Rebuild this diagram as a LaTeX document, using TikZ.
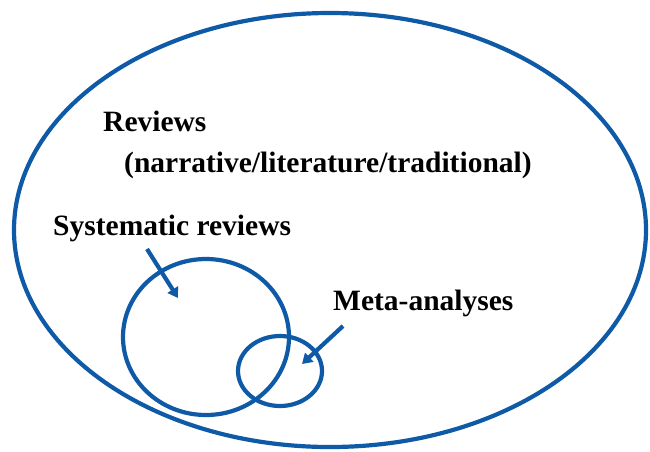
\documentclass[tikz,border=0pt]{standalone}
\usepackage{fontspec}
\setmainfont{Liberation Serif}
\usetikzlibrary{arrows.meta,positioning}

\definecolor{setblue}{RGB}{14,90,167}

\begin{document}
\begin{tikzpicture}[x=1pt,y=-1pt]

        \def\w{4.2pt}

        % Styles for the sets and their labels
        \tikzset{
            setline/.style={draw=setblue, line width=\w},
            pointer/.style={setblue, line width=\w,
                -{Triangle[length=10pt,width=12pt]}},
            setlabel/.style={inner sep=0pt, anchor=base west,
                font=\fontsize{29.5}{31}\selectfont\bfseries}
        }

        \useasboundingbox (0,0) rectangle (650,451);

        % Scope used for the three sets
        \begin{scope}
            \draw[setline] (330,230) ellipse [x radius=316, y radius=217];
            \draw[setline] (206,337) ellipse [x radius=83, y radius=78];
            \draw[setline] (280,371) ellipse [x radius=42, y radius=35];
        \end{scope}

        % Labels
        \node[setlabel] (R) at (103,131) {Reviews};
        \node[setlabel] (N) at (124,172)
        {(narrative/literature/traditional)};
        \node[setlabel] (S) at (53,235) {Systematic reviews};
        \node[setlabel] (M) at (333,310) {Meta-analyses};

        % Ends of the pointers
        \coordinate (S0) at (147,249);
        \coordinate (S1) at (178,298);
        \coordinate (M0) at (343,326);
        \coordinate (M1) at (302,364);

        \begin{scope}
            \draw[pointer] (S0) -- (S1);
            \draw[pointer] (M0) -- (M1);
        \end{scope}

\end{tikzpicture}
\end{document}
